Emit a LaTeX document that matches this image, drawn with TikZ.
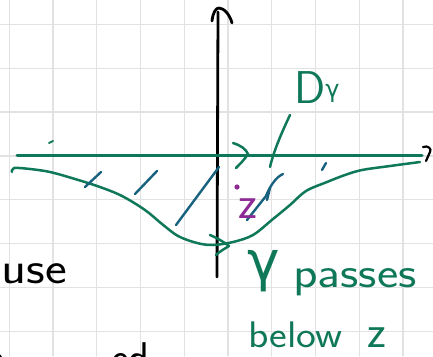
\documentclass[tikz,border=0pt]{standalone}
\usepackage{fontspec}
\newfontfamily\greekfont{DejaVu Sans}
\definecolor{ink}{RGB}{15,120,88}
\definecolor{hatch}{RGB}{24,98,128}
\definecolor{zpur}{RGB}{142,42,150}
\definecolor{gridc}{RGB}{226,226,226}
\begin{document}
\begin{tikzpicture}[x=1pt,y=-1pt, line cap=round, line join=round,
  greenpen/.style={line width=2.5pt,draw=ink},
  hatchpen/.style={line width=2.4pt,draw=hatch},
  blackpen/.style={line width=2.8pt,draw=black},
  hand/.style={font=\sffamily\fontsize{43}{48}\selectfont, inner sep=0pt}]
\useasboundingbox (0,0) rectangle (433,356);
\fill[white] (0,0) rectangle (433,356);
\foreach \i in {0,...,9} \draw[gridc,line width=1.3pt] ({9.3+43.75*\i},0) -- ({9.3+43.75*\i},356);
\foreach \i in {0,...,7} \draw[gridc,line width=1.3pt] (0,{24.3+43.85*\i}) -- (433,{24.3+43.85*\i});
% imaginary axis
\coordinate (yb) at (217,277);
\coordinate (yt) at (218,12);
\draw[blackpen] (yb) -- (yt);
\draw[blackpen] (212,21) .. controls (213,12) and (216,8) .. (219,8) .. controls (224,8) and (230,15) .. (232,23);
% real axis
\coordinate (xl) at (17,155);
\coordinate (xr) at (422,155);
\draw[greenpen, line width=3pt] (xl) -- (xr);
\draw[blackpen, line width=2.2pt] (423,147) .. controls (428,145) and (432,149) .. (430,152) .. controls (429,155) and (427,158) .. (426,161);
\draw[greenpen] (233,143) .. controls (240,145) and (246,149) .. (248,154) .. controls (245,159) and (240,164) .. (236,168);
\draw[greenpen, line width=2pt] (49,143) -- (53,141);
% contour gamma
\draw[greenpen] plot[smooth, tension=0.55] coordinates {(12,172) (14,168) (30,169) (50,172) (75,179) (100,187) (122,196) (145,210) (162,224) (178,236) (197,243) (213,245) (233,242) (253,235) (273,219) (290,205) (306,191) (327,182) (345,175) (362,170) (390,166) (420,162)};
\draw[greenpen] (210,235) .. controls (217,238) and (224,242) .. (229,246) .. controls (224,249) and (219,252) .. (216,255);
% hatching
\draw[hatchpen] (85,187) -- (101,172);
\draw[hatchpen] (135,194) -- (157,171);
\draw[hatchpen] (176,225) -- (219,167);
\draw[hatchpen] (247,220) -- (266,196) .. controls (270,186) and (276,177) .. (283,174);
\draw[hatchpen] (267,200) -- (270,188);
\draw[hatchpen] (322,170) -- (326,163);
% D slash
\draw[greenpen] (290,115) .. controls (282,132) and (274,150) .. (270,167);
% point z
\fill[zpur] (237,187) circle (2.6pt);
\node[hand, text=zpur, font=\sffamily\fontsize{46}{46}\selectfont] (zl) at (248,209) {z};
% labels
\node[hand, text=ink, font=\sffamily\fontsize{46}{48}\selectfont, anchor=base west] (D) at (294,103) {D\raisebox{6pt}{\greekfont\fontsize{24}{24}\selectfont γ}};
\node[text=ink, inner sep=0pt, font=\greekfont\fontsize{55}{55}\selectfont, anchor=base] (g) at (264,280) {γ};
\node[hand, text=ink, anchor=base west, xscale=1.18] (pa) at (293,287) {passes};
\node[hand, text=ink, anchor=base west, xscale=1.14, font=\sffamily\fontsize{37}{40}\selectfont] (be) at (248,347) {below};
\node[hand, text=ink, anchor=base west, font=\sffamily\fontsize{46}{46}\selectfont] (bz) at (367,347) {z};
\node[hand, anchor=base east, xscale=1.15, font=\sffamily\fontsize{45}{48}\selectfont] (us) at (67,283) {use};
\node[hand, anchor=base east] (ed) at (150,372) {ed};
\node[hand, anchor=base west] (aa) at (-14,372) {a};
\end{tikzpicture}
\end{document}
